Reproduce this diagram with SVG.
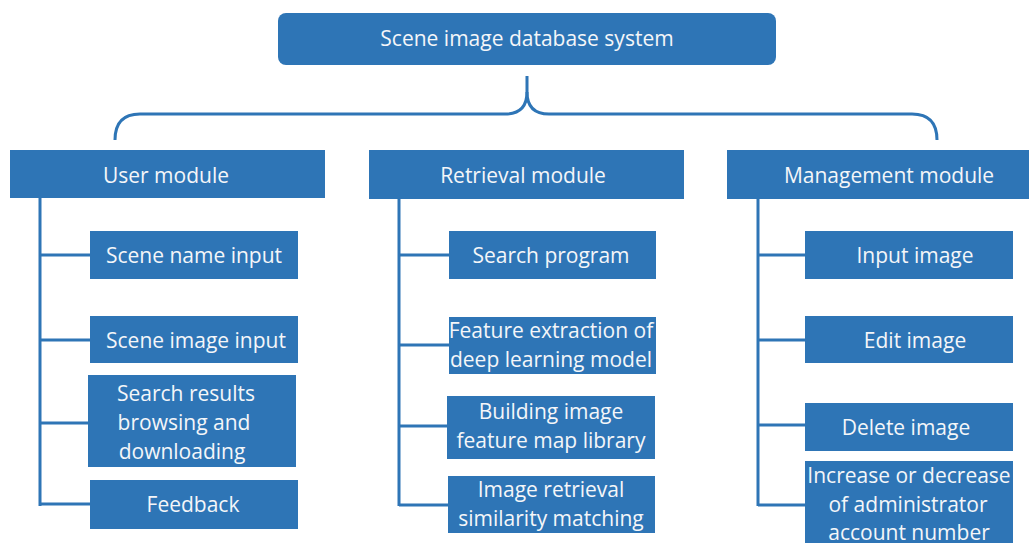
<svg xmlns="http://www.w3.org/2000/svg" width="1029" height="543" viewBox="0 0 1029 543">
<style>
.b{fill:#2E75B6}
.t{fill:#F4F6F9;font-family:"Open Sans","Liberation Sans",sans-serif;font-size:21px;text-anchor:middle}
.c{fill:none;stroke:#2E75B6;stroke-width:3}
</style>
<rect width="1029" height="543" fill="#FFFFFF"/>
<g id="connectors">
<path class="c" d="M115,140 Q115,114 140,114 L505,114 Q527,114 527,92 L527,76"/>
<path class="c" d="M937,140 Q937,114 912,114 L549,114 Q527,114 527,92"/>
<path class="c" d="M40,198 V506 M40,255 H90 M40,340 H90 M40,423 H88 M40,504 H90"/>
<path class="c" d="M399,199 V506 M399,255 H449 M399,345 H449 M399,426 H447 M399,505 H448"/>
<path class="c" d="M758,199 V506 M758,255 H805 M758,340 H805 M758,425 H805 M758,505 H805"/>
</g>
<g id="root"><rect class="b" x="278" y="13" width="498" height="52" rx="8"/><text class="t" x="527" y="46">Scene image database system</text></g>
<g id="user"><rect class="b" x="10" y="150" width="315" height="48"/><text class="t" x="166" y="183">User module</text></g>
<g id="retrieval"><rect class="b" x="369" y="150" width="315" height="49"/><text class="t" x="523" y="183">Retrieval module</text></g>
<g id="management"><rect class="b" x="727" y="150" width="302" height="49"/><text class="t" x="889" y="183">Management module</text></g>
<g id="u1"><rect class="b" x="90" y="231" width="208" height="48"/><text class="t" x="194" y="263">Scene name input</text></g>
<g id="u2"><rect class="b" x="90" y="316" width="208" height="47"/><text class="t" x="196" y="348">Scene image input</text></g>
<g id="u3"><rect class="b" x="88" y="375" width="208" height="92"/><text class="t" x="186" y="401">Search results</text><text class="t" x="184" y="430">browsing and</text><text class="t" x="182" y="459">downloading</text></g>
<g id="u4"><rect class="b" x="90" y="480" width="208" height="49"/><text class="t" x="193" y="512">Feedback</text></g>
<g id="r1"><rect class="b" x="449" y="231" width="207" height="48"/><text class="t" x="551" y="263">Search program</text></g>
<g id="r2"><rect class="b" x="449" y="317" width="207" height="57"/><text class="t" x="551" y="338">Feature extraction of</text><text class="t" x="551" y="367">deep learning model</text></g>
<g id="r3"><rect class="b" x="447" y="396" width="208" height="63"/><text class="t" x="551" y="419">Building image</text><text class="t" x="551" y="448">feature map library</text></g>
<g id="r4"><rect class="b" x="448" y="476" width="207" height="57"/><text class="t" x="551" y="497">Image retrieval</text><text class="t" x="551" y="526">similarity matching</text></g>
<g id="m1"><rect class="b" x="805" y="231" width="208" height="48"/><text class="t" x="915" y="263">Input image</text></g>
<g id="m2"><rect class="b" x="805" y="316" width="208" height="47"/><text class="t" x="915" y="348">Edit image</text></g>
<g id="m3"><rect class="b" x="805" y="403" width="208" height="48"/><text class="t" x="906" y="435">Delete image</text></g>
<g id="m4"><rect class="b" x="805" y="461" width="208" height="90"/><text class="t" x="909" y="483">Increase or decrease</text><text class="t" x="908" y="512">of administrator</text><text class="t" x="909" y="540">account number</text></g>
</svg>
